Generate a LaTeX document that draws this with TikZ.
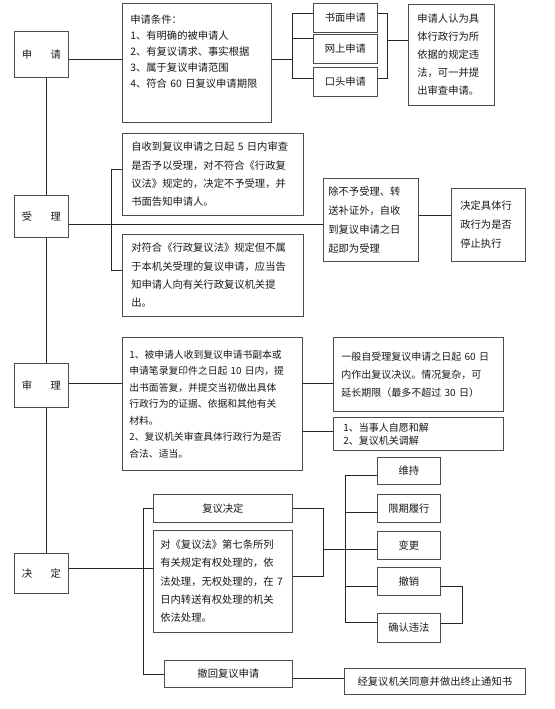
\documentclass[tikz,border=0pt]{standalone}
\usepackage{fontspec}
\newfontfamily\cjk{Noto Sans CJK SC}

\begin{document}
\begin{tikzpicture}[
    x=1pt, y=-1pt,
    box/.style   = {draw=black!70, line width=0.7pt, fill=white, anchor=north west,
                    inner xsep=9pt, inner ysep=0pt, align=left, text=black!90,
                    font=\cjk\fontsize{10.3}{18}\selectfont},
    stage/.style = {box, align=center, inner sep=0pt, minimum width=54pt},
    tag/.style   = {box, align=center, inner sep=0pt},
    conn/.style  = {draw=black!85, line width=0.7pt},
]
\fill[white] (0,0) rectangle (554,709);
\useasboundingbox (0,0) rectangle (554,709);

%% ---- Stages (left column) ----
\node[stage, minimum height=46pt] (sq) at (14,31)  {申\hspace{1.8em}请};
\node[stage, minimum height=42pt] (sl) at (14,195) {受\hspace{1.8em}理};
\node[stage, minimum height=44pt] (sh) at (14,363) {审\hspace{1.8em}理};
\node[stage, minimum height=40pt] (jd) at (14,553) {决\hspace{1.8em}定};

%% ---- 申请 ----
\node[box, inner xsep=8pt, text width=133pt, minimum width=149pt, minimum height=119pt,
      font=\cjk\fontsize{10.3}{16}\selectfont] (cond) at (122,3)
    {申请条件：\\1、有明确的被申请人\\2、有复议请求、事实根据\\3、属于复议申请范围\\4、符合 60 日复议申请期限\\[8pt]\mbox{}};
\node[tag, minimum width=64pt, minimum height=29pt] (w1) at (313,3)  {书面申请};
\node[tag, minimum width=64pt, minimum height=29pt] (w2) at (313,34) {网上申请};
\node[tag, minimum width=64pt, minimum height=29pt] (w3) at (313,67) {口头申请};
\node[box, text width=68pt, minimum width=86pt, minimum height=101pt] (rev) at (408,4)
    {申请人认为具\\体行政行为所\\依据的规定违\\法，可一并提\\出审查申请。};

%% ---- 受理 ----
\node[box, text width=163pt, minimum width=181pt, minimum height=82pt,
      font=\cjk\fontsize{10.3}{18.3}\selectfont] (acA) at (122,133)
    {自收到复议申请之日起 5 日内审查\\是否予以受理，对不符合《行政复\\议法》规定的，决定不予受理，并\\书面告知申请人。};
\node[box, text width=163pt, minimum width=181pt, minimum height=82pt,
      font=\cjk\fontsize{10.3}{18.3}\selectfont] (acB) at (122,234)
    {对符合《行政复议法》规定但不属\\于本机关受理的复议申请，应当告\\知申请人向有关行政复议机关提\\出。};
\node[box, inner xsep=5pt, text width=85pt, minimum width=95pt, minimum height=83pt,
      font=\cjk\fontsize{10.3}{19}\selectfont] (acC) at (323,178)
    {除不予受理、转\\送补证外，自收\\到复议申请之日\\起即为受理};
\node[box, text width=56pt, minimum width=74pt, minimum height=73pt,
      font=\cjk\fontsize{10.3}{19}\selectfont] (acD) at (451,188)
    {决定具体行\\政行为是否\\停止执行};

%% ---- 审理 ----
\node[box, inner xsep=7pt, text width=166pt, minimum width=180pt, minimum height=133pt,
      font=\cjk\fontsize{9.8}{16.5}\selectfont] (exE) at (122,337)
    {1、被申请人收到复议申请书副本或\\申请笔录复印件之日起 10 日内，提\\出书面答复，并提交当初做出具体\\行政行为的证据、依据和其他有关\\材料。\\2、复议机关审查具体行政行为是否\\合法、适当。};
\node[box, inner xsep=8pt, text width=154pt, minimum width=170pt, minimum height=74pt,
      font=\cjk\fontsize{10}{18}\selectfont] (exF) at (333,337)
    {一般自受理复议申请之日起 60 日\\内作出复议决议。情况复杂，可\\延长期限（最多不超过 30 日）};
\node[box, inner xsep=10pt, text width=150pt, minimum width=170pt, minimum height=33pt,
      font=\cjk\fontsize{10}{13}\selectfont] (exG) at (333,417)
    {1、当事人自愿和解\\2、复议机关调解};

%% ---- 决定 ----
\node[tag, minimum width=139pt, minimum height=28pt] (dec) at (153,494) {复议决定};
\node[box, inner xsep=7pt, text width=125pt, minimum width=139pt, minimum height=102pt,
      font=\cjk\fontsize{10.3}{18.3}\selectfont] (tr) at (153,530)
    {对《复议法》第七条所列\\有关规定有权处理的，依\\\mbox{法处理，无权处理的，在 7}\\日内转送有权处理的机关\\依法处理。};
\node[tag, minimum width=128pt, minimum height=27pt] (wd) at (164,660) {撤回复议申请};
\node[tag, minimum width=63pt, minimum height=27pt] (r1) at (377,457) {维持};
\node[tag, minimum width=63pt, minimum height=28pt] (r2) at (377,494) {限期履行};
\node[tag, minimum width=63pt, minimum height=28pt] (r3) at (377,531) {变更};
\node[tag, minimum width=63pt, minimum height=28pt] (r4) at (377,567) {撤销};
\node[tag, minimum width=63pt, minimum height=29pt] (r5) at (377,613) {确认违法};
\node[tag, minimum width=181pt, minimum height=26pt] (term) at (344,668) {经复议机关同意并做出终止通知书};

%% ---- Spine ----
\draw[conn] ([xshift=5pt]sq.south) -- ([xshift=5pt]sl.north);
\draw[conn] ([xshift=5pt]sl.south) -- ([xshift=5pt]sh.north);
\draw[conn] ([xshift=5pt]sh.south) -- ([xshift=5pt]jd.north);

%% ---- 申请 connectors ----
\draw[conn] ([yshift=-5pt]sq.east) -- ([yshift=-5pt]sq.east -| cond.west);
\draw[conn] ([yshift=-5pt]sq.east -| cond.east) -- ++(21,0) coordinate (wayL);
\draw[conn] ([yshift=4.5pt]w1.west) -| (wayL) |- ([yshift=3.5pt]w3.west);
\draw[conn] ([yshift=10.5pt]w2.west) -- ([yshift=10.5pt]w2.west -| wayL);
\draw[conn] ([yshift=4.5pt]w1.east) -- ++(10,0) coordinate (wayR) |- ([yshift=3.5pt]w3.east);
\draw[conn] ([yshift=14.5pt]rev.west) -- ([yshift=14.5pt]rev.west -| wayR);

%% ---- 受理 connectors ----
\draw[conn] ([yshift=-8pt]sl.east) -- ([yshift=-8pt]sl.east -| acC.west);
\draw[conn] ([yshift=5pt]acA.west) -- ++(-11,0) |- ([yshift=5pt]acB.west);
\draw[conn] ([yshift=4.5pt]acC.east) -- ([yshift=4.5pt]acC.east -| acD.west);

%% ---- 审理 connectors ----
\draw[conn] ([yshift=2pt]sh.east) -- ([yshift=2pt]sh.east -| exE.west);
\draw[conn] ([yshift=2pt]sh.east -| exE.east) -- ([yshift=2pt]sh.east -| exF.west);
\draw[conn] ([yshift=3pt]exG.west -| exE.east) -- ([yshift=3pt]exG.west);

%% ---- 决定 connectors ----
\draw[conn] ([yshift=5pt]jd.east) -- ([yshift=5pt]jd.east -| tr.west);
\draw[conn] (dec.west) -- ++(-10,0) |- (wd.west);
\draw[conn] (dec.east) -- ++(31,0) coordinate (decR) |- ([yshift=5pt]tr.east);
\draw[conn] ([yshift=-4.5pt]r1.west) -- ++(-32,0) coordinate (resL) |- ([yshift=5.5pt]r5.west);
\draw[conn] ([yshift=-4pt]r2.west) -- ([yshift=-4pt]r2.west -| resL);
\draw[conn] ([yshift=-5pt]r4.west) -- ([yshift=-5pt]r4.west -| resL);
\draw[conn] ([yshift=-4pt]r3.west -| decR) -- ([yshift=-4pt]r3.west);
\draw[conn] ([yshift=-5pt]r4.east) -- ++(22,0) |- ([yshift=5pt]r5.east);
\draw[conn] ([yshift=-4.5pt]wd.east) -- ([yshift=-4.5pt]wd.east -| term.west);

\end{tikzpicture}
\end{document}
